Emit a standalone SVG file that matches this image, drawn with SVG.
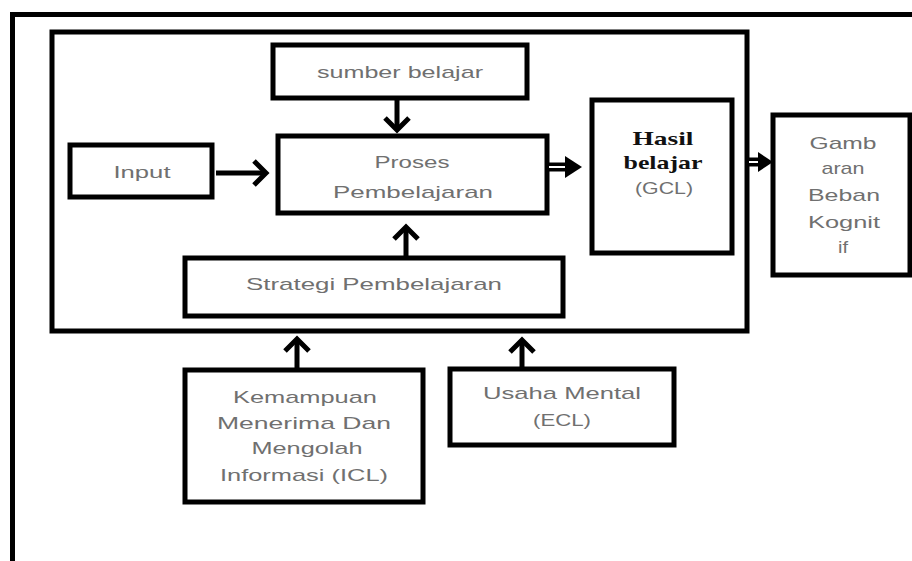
<svg xmlns="http://www.w3.org/2000/svg" width="912" height="561" viewBox="0 0 912 561">
<style>
.box{fill:#fff;stroke:#000;stroke-width:5}
.frame{fill:none;stroke:#000;stroke-width:5}
.t{font-family:"Liberation Sans",Arial,sans-serif;font-size:17px;fill:#707070;text-anchor:middle}
.b{font-family:"Liberation Serif","Times New Roman",serif;font-size:19px;font-weight:bold;fill:#111;text-anchor:middle}
.ln{fill:none;stroke:#000;stroke-width:5}
.chev{fill:none;stroke:#000;stroke-width:5;stroke-linejoin:miter}
.tri{fill:#000}
</style>
<rect width="912" height="561" fill="#fff"/>
<path class="frame" d="M12.5 561 V14.5 H912"/>
<rect id="inner" class="box" x="52" y="32" width="695" height="299" fill="none"/>

<g id="sumber">
<rect class="box" x="273" y="45" width="254" height="53"/>
<text class="t" x="400" y="78" textLength="166" lengthAdjust="spacingAndGlyphs">sumber belajar</text>
</g>
<g id="input">
<rect class="box" x="70" y="145" width="142" height="52"/>
<text class="t" x="142" y="178" textLength="57" lengthAdjust="spacingAndGlyphs">Input</text>
</g>
<g id="proses">
<rect class="box" x="278" y="136" width="269" height="77"/>
<text class="t" x="412" y="168" textLength="75" lengthAdjust="spacingAndGlyphs">Proses</text>
<text class="t" x="413" y="198" textLength="160" lengthAdjust="spacingAndGlyphs">Pembelajaran</text>
</g>
<g id="hasil">
<rect class="box" x="592" y="100" width="140" height="153"/>
<text class="b" x="663" y="145" textLength="61" lengthAdjust="spacingAndGlyphs">Hasil</text>
<text class="b" x="663" y="169" textLength="79" lengthAdjust="spacingAndGlyphs">belajar</text>
<text class="t" x="664" y="194" textLength="58" lengthAdjust="spacingAndGlyphs">(GCL)</text>
</g>
<g id="gambaran">
<rect class="box" x="773" y="115" width="137" height="160"/>
<text class="t" x="843" y="149" textLength="67" lengthAdjust="spacingAndGlyphs">Gamb</text>
<text class="t" x="843" y="174" textLength="43" lengthAdjust="spacingAndGlyphs">aran</text>
<text class="t" x="844" y="201" textLength="72" lengthAdjust="spacingAndGlyphs">Beban</text>
<text class="t" x="844" y="228" textLength="72" lengthAdjust="spacingAndGlyphs">Kognit</text>
<text class="t" x="843" y="253" textLength="10" lengthAdjust="spacingAndGlyphs">if</text>
</g>
<g id="strategi">
<rect class="box" x="185" y="258" width="378" height="58"/>
<text class="t" x="374" y="290" textLength="256" lengthAdjust="spacingAndGlyphs">Strategi Pembelajaran</text>
</g>
<g id="kemampuan">
<rect class="box" x="185" y="370" width="238" height="132"/>
<text class="t" x="305" y="403" textLength="144" lengthAdjust="spacingAndGlyphs">Kemampuan</text>
<text class="t" x="304" y="429" textLength="174" lengthAdjust="spacingAndGlyphs">Menerima Dan</text>
<text class="t" x="307" y="454" textLength="111" lengthAdjust="spacingAndGlyphs">Mengolah</text>
<text class="t" x="304" y="481" textLength="168" lengthAdjust="spacingAndGlyphs">Informasi (ICL)</text>
</g>
<g id="usaha">
<rect class="box" x="450" y="369" width="224" height="76"/>
<text class="t" x="562" y="399" textLength="158" lengthAdjust="spacingAndGlyphs">Usaha Mental</text>
<text class="t" x="562" y="426" textLength="58" lengthAdjust="spacingAndGlyphs">(ECL)</text>
</g>

<g id="connectors">
<path class="ln" d="M397 100 V128"/>
<path class="chev" d="M385 118 L397 130 L409 118"/>
<path class="ln" d="M216 173 H264"/>
<path class="chev" d="M254 161 L266 173 L254 185"/>
<path class="ln" d="M406 256 V229"/>
<path class="chev" d="M394 239 L406 227 L418 239"/>
<path class="ln" d="M297 368 V341"/>
<path class="chev" d="M285 351 L297 339 L309 351"/>
<path class="ln" d="M522 367 V342"/>
<path class="chev" d="M510 352 L522 340 L534 352"/>
<path d="M549 167 H570" stroke="#000" stroke-width="9" fill="none"/>
<path d="M549 167 H568" stroke="#fff" stroke-width="2" fill="none"/>
<path class="tri" d="M565 156 L582 167 L565 178 Z"/>
<path d="M749 162 H763" stroke="#000" stroke-width="9" fill="none"/>
<path d="M749 162 H760" stroke="#fff" stroke-width="2" fill="none"/>
<path class="tri" d="M758 152 L773 162 L758 172 Z"/>
</g>
</svg>
